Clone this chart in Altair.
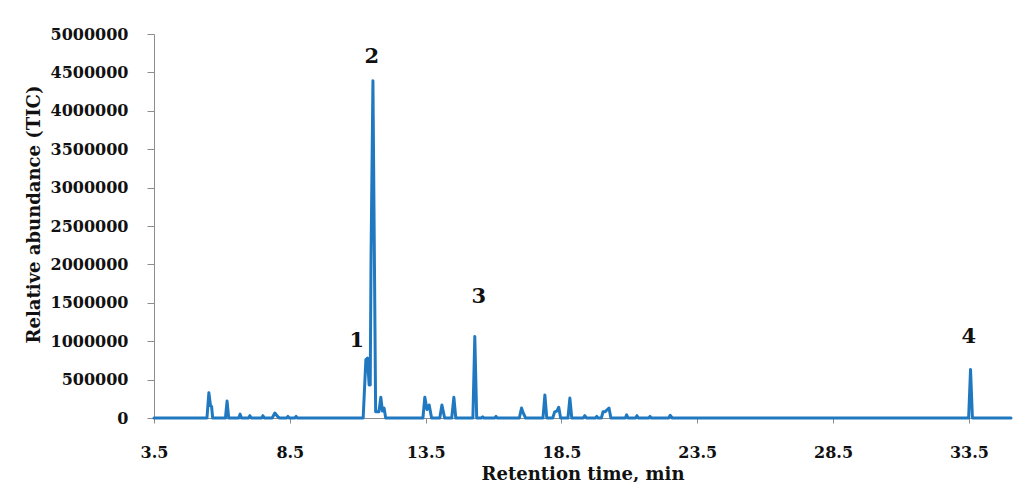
import altair as alt
import pandas as pd

# Chromatogram trace (retention time, min / TIC abundance)
rt = [3.50, 5.45, 5.52, 5.58, 5.62, 5.66,
      6.13, 6.19, 6.25, 6.62, 6.67, 6.72, 6.98, 7.03, 7.08, 7.46, 7.51, 7.56,
      7.85, 7.95, 8.05, 8.12, 8.38, 8.43, 8.48, 8.68, 8.73, 8.78,
      11.20, 11.30, 11.36, 11.42, 11.46, 11.49, 11.56, 11.66, 11.78, 11.85, 11.91, 11.97, 12.03,
      13.40, 13.47, 13.55, 13.63, 13.72, 14.02, 14.10, 14.20, 14.46, 14.54, 14.61,
      15.24, 15.31, 15.38, 15.55, 15.60, 15.65, 16.04, 16.09, 16.14,
      16.95, 17.03, 17.10, 17.18, 17.82, 17.89, 17.96,
      18.18, 18.25, 18.33, 18.40, 18.47, 18.74, 18.81, 18.88,
      19.30, 19.36, 19.42, 19.75, 19.80, 19.85, 19.97, 20.03, 20.10, 20.25, 20.32,
      20.85, 20.90, 20.95, 21.23, 21.28, 21.33, 21.71, 21.76, 21.81, 22.45, 22.50, 22.58,
      33.49, 33.56, 33.63, 35.05]
tic = [0, 0, 330000, 160000, 150000, 0,
       0, 220000, 0, 0, 50000, 0, 0, 30000, 0, 0, 30000, 0,
       0, 65000, 20000, 0, 0, 20000, 0, 0, 20000, 0,
       0, 760000, 780000, 430000, 430000, 2080000, 4390000, 80000, 80000, 270000, 90000, 130000, 0,
       0, 270000, 110000, 170000, 0, 0, 170000, 0, 0, 270000, 0,
       0, 1060000, 0, 0, 15000, 0, 0, 20000, 0,
       0, 130000, 60000, 0, 0, 300000, 0,
       0, 80000, 90000, 140000, 0, 0, 260000, 0,
       0, 30000, 0, 0, 20000, 0, 0, 80000, 80000, 130000, 0,
       0, 40000, 0, 0, 30000, 0, 0, 20000, 0, 0, 35000, 0,
       0, 630000, 0, 0]

# Peak labels
label_text = ["1", "2", "3", "4"]
label_rt = [10.97, 11.52, 15.46, 33.50]
label_tic = [1000000, 4700000, 1570000, 1060000]

x_ticks = [3.5, 8.5, 13.5, 18.5, 23.5, 28.5, 33.5]
y_ticks = [0, 500000, 1000000, 1500000, 2000000, 2500000, 3000000,
           3500000, 4000000, 4500000, 5000000]

trace = pd.DataFrame({"rt": rt, "tic": tic})
labels = pd.DataFrame({"t": label_text, "rt": label_rt, "tic": label_tic})

FONT = "DejaVu Serif"
GRAY = "#8c8c8c"
INK = "#111111"

x_scale = alt.Scale(domain=[3.5, 35.05], nice=False, zero=False)
y_scale = alt.Scale(domain=[0, 5000000], nice=False)

x_axis = alt.Axis(values=x_ticks, format=".1f", title="Retention time, min",
                  grid=False, domainColor=GRAY, tickColor=GRAY,
                  tickSize=5, labelPadding=21, labelOverlap=False,
                  labelFlush=False, labelBound=False,
                  labelFont=FONT, labelFontSize=16, labelFontWeight="bold",
                  labelColor=INK,
                  titleFont=FONT, titleFontSize=18, titleFontWeight="bold",
                  titleColor=INK, titleY=56, titleBaseline="middle")
y_axis = alt.Axis(values=y_ticks, format="d", title="Relative abundance (TIC)",
                  grid=False, domainColor=GRAY, tickColor=GRAY,
                  tickSize=7, labelPadding=19, labelOverlap=False,
                  labelFlush=False, labelBound=False,
                  labelFont=FONT, labelFontSize=16, labelFontWeight="bold",
                  labelColor=INK,
                  titleFont=FONT, titleFontSize=18, titleFontWeight="bold",
                  titleColor=INK, titleX=-120, titleY=180,
                  titleAngle=-90, titleAlign="center", titleBaseline="middle")

line = alt.Chart(trace).mark_line(
    color="#2079C0", strokeWidth=3, strokeJoin="round", strokeCap="round"
).encode(
    x=alt.X("rt:Q", scale=x_scale, axis=x_axis),
    y=alt.Y("tic:Q", scale=y_scale, axis=y_axis),
)

text = alt.Chart(labels).mark_text(
    font=FONT, fontSize=21, fontWeight="bold", color=INK, baseline="middle"
).encode(
    x=alt.X("rt:Q", scale=x_scale, axis=x_axis),
    y=alt.Y("tic:Q", scale=y_scale, axis=y_axis),
    text="t:N",
)

chart = alt.layer(line, text).properties(
    width=857, height=384,
    autosize=alt.AutoSizeParams(type="none"),
    padding={"left": 146, "top": 26, "right": 2, "bottom": 64},
).configure(background="white").configure_view(stroke=None, strokeWidth=0)

chart.save("out.html", embed_options={"renderer": "svg", "actions": False})
